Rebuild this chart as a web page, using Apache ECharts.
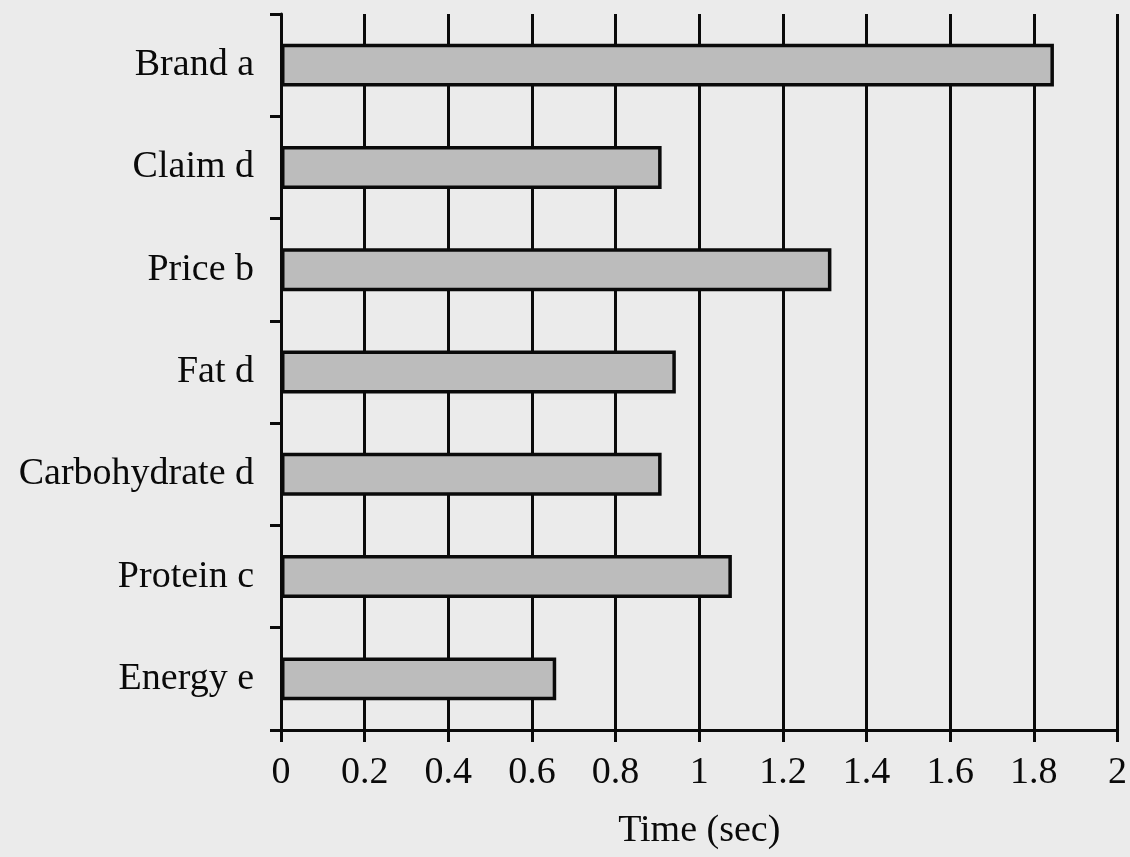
<!DOCTYPE html>
<html>
<head>
<meta charset="utf-8">
<script src="https://cdn.jsdelivr.net/npm/echarts@6/dist/echarts.min.js"></script>
<style>
  html, body { margin: 0; padding: 0; background: #ebebeb; }
  #chart { width: 1130px; height: 857px; }
</style>
</head>
<body>
<div id="chart"></div>
<script>
// categories listed top to bottom as in the picture
const categories = ['Brand a', 'Claim d', 'Price b', 'Fat d', 'Carbohydrate d', 'Protein c', 'Energy e'];
const times = [1.848, 0.91, 1.316, 0.944, 0.91, 1.078, 0.658];
const xTicks = [0, 0.2, 0.4, 0.6, 0.8, 1, 1.2, 1.4, 1.6, 1.8, 2];

const font = 'Liberation Serif';
const ink = '#0a0a0a';
const chart = echarts.init(document.getElementById('chart'));

chart.setOption({
  backgroundColor: '#ebebeb',
  animation: false,
  grid: { left: 281, right: 11, top: 14, bottom: 127, containLabel: false },
  xAxis: {
    type: 'value',
    min: xTicks[0],
    max: xTicks[xTicks.length - 1],
    interval: 0.2,
    name: 'Time (sec)',
    nameLocation: 'middle',
    nameGap: 82,
    nameTextStyle: { fontFamily: font, fontSize: 38, color: ink },
    axisLine: { show: true, lineStyle: { color: ink, width: 3 } },
    axisTick: { show: true, length: 12, lineStyle: { color: ink, width: 3 } },
    axisLabel: {
      margin: 24, fontFamily: font, fontSize: 38, color: ink,
      formatter: v => String(+v.toFixed(1))
    },
    splitLine: { show: true, lineStyle: { color: ink, width: 3 } }
  },
  yAxis: {
    type: 'category',
    data: categories,
    inverse: true,
    axisLine: { show: true, lineStyle: { color: ink, width: 3 } },
    axisTick: { show: true, length: 11, lineStyle: { color: ink, width: 3 } },
    axisLabel: { margin: 27, fontFamily: font, fontSize: 38, color: ink, padding: [6, 0, 0, 0] },
    splitLine: { show: false }
  },
  series: [{
    type: 'bar',
    data: times,
    barWidth: '42%',
    itemStyle: { color: '#bcbcbc', borderColor: ink, borderWidth: 3.5 }
  }]
});
</script>
</body>
</html>
